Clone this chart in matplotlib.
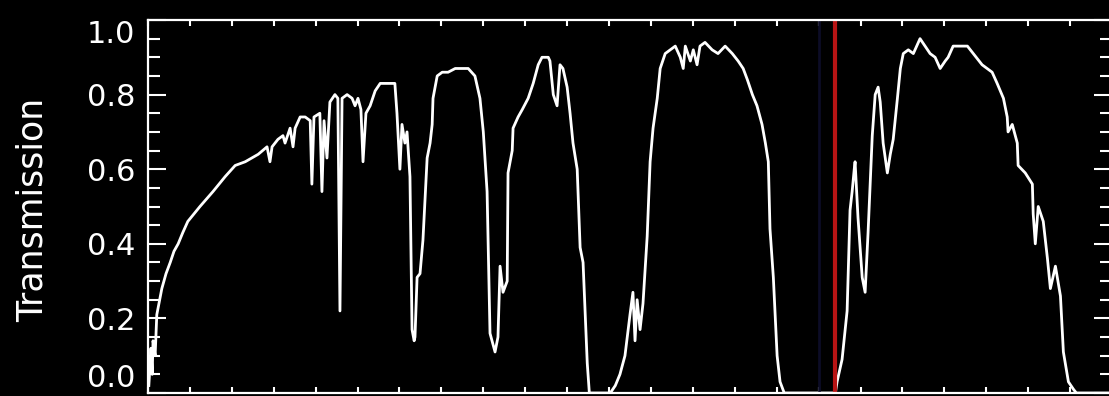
import matplotlib
matplotlib.use("Agg")
import matplotlib.pyplot as plt
from matplotlib.ticker import MultipleLocator, FixedLocator

# atmospheric transmission, wavelength in microns
wavelength = [0.302, 0.307, 0.310, 0.312, 0.317, 0.321, 0.333, 0.343, 0.353, 0.362,
              0.372, 0.383, 0.395,
              0.424, 0.455, 0.484, 0.508, 0.532, 0.563, 0.584, 0.591, 0.596, 0.610,
              0.622, 0.627, 0.639, 0.646, 0.651, 0.663, 0.675, 0.687, 0.691, 0.696,
              0.710, 0.715, 0.720, 0.727, 0.734, 0.746, 0.753, 0.758, 0.763, 0.775,
              0.787, 0.794, 0.801, 0.808, 0.813, 0.820, 0.830, 0.842, 0.854, 0.889,
              0.894, 0.901, 0.906, 0.913, 0.918, 0.925, 0.930, 0.935, 0.937, 0.942,
              0.949, 0.956, 0.966, 0.973, 0.978, 0.980, 0.990, 1.002, 1.016, 1.033,
              1.064, 1.080, 1.092, 1.100, 1.109, 1.116, 1.128, 1.135, 1.140, 1.147,
              1.157, 1.159, 1.169, 1.171, 1.183, 1.193, 1.207, 1.219, 1.231, 1.240,
              1.255, 1.259, 1.267, 1.276, 1.283, 1.290, 1.300, 1.307, 1.314, 1.324,
              1.331, 1.338, 1.348, 1.353, 1.403, 1.415, 1.426, 1.438, 1.450, 1.457,
              1.462, 1.467, 1.474, 1.481, 1.491, 1.498, 1.505, 1.515, 1.522, 1.534,
              1.546, 1.558, 1.570, 1.577, 1.582, 1.594, 1.601, 1.610, 1.617, 1.629,
              1.646, 1.660, 1.677, 1.694, 1.708, 1.720, 1.730, 1.742, 1.753, 1.765,
              1.773, 1.780, 1.784, 1.792, 1.801, 1.808, 1.818, 1.940, 1.944, 1.956,
              1.968, 1.975, 1.980, 1.985, 1.987, 1.994, 2.004, 2.011, 2.018, 2.028,
              2.035, 2.042, 2.047, 2.054, 2.064, 2.071, 2.078, 2.088, 2.095, 2.102,
              2.114, 2.126, 2.142, 2.154, 2.166, 2.178, 2.190, 2.202, 2.209, 2.221,
              2.238, 2.255, 2.269, 2.290, 2.314, 2.326, 2.341, 2.350, 2.352, 2.362,
              2.374, 2.376, 2.393, 2.410, 2.412, 2.417, 2.424, 2.436, 2.446, 2.453,
              2.465, 2.477, 2.484, 2.496, 2.508, 2.515, 2.596]
transmission = [0.02, 0.12, 0.05, 0.14, 0.10, 0.21, 0.28, 0.32, 0.35, 0.38,
                0.40, 0.43, 0.46,
                0.50, 0.54, 0.58, 0.61, 0.62, 0.64, 0.66, 0.62, 0.66, 0.68,
                0.69, 0.67, 0.71, 0.66, 0.71, 0.74, 0.74, 0.73, 0.56, 0.74,
                0.75, 0.54, 0.73, 0.63, 0.78, 0.80, 0.79, 0.22, 0.79, 0.80,
                0.79, 0.77, 0.79, 0.76, 0.62, 0.75, 0.77, 0.81, 0.83, 0.83,
                0.75, 0.60, 0.72, 0.67, 0.70, 0.58, 0.17, 0.14, 0.15, 0.31,
                0.32, 0.41, 0.63, 0.67, 0.72, 0.79, 0.85, 0.86, 0.86, 0.87,
                0.87, 0.85, 0.79, 0.70, 0.54, 0.16, 0.11, 0.15, 0.34, 0.27,
                0.30, 0.59, 0.65, 0.71, 0.74, 0.76, 0.79, 0.83, 0.88, 0.90,
                0.90, 0.89, 0.80, 0.77, 0.88, 0.87, 0.82, 0.75, 0.67, 0.60,
                0.39, 0.35, 0.08, 0.00, 0.00, 0.02, 0.05, 0.10, 0.21, 0.27,
                0.14, 0.25, 0.17, 0.24, 0.42, 0.62, 0.71, 0.79, 0.87, 0.91,
                0.92, 0.93, 0.90, 0.87, 0.93, 0.89, 0.92, 0.88, 0.93, 0.94,
                0.92, 0.91, 0.93, 0.91, 0.89, 0.87, 0.84, 0.80, 0.77, 0.72,
                0.67, 0.62, 0.44, 0.31, 0.10, 0.03, 0.00, 0.00, 0.03, 0.09,
                0.22, 0.49, 0.54, 0.60, 0.62, 0.47, 0.31, 0.27, 0.43, 0.69,
                0.80, 0.82, 0.78, 0.67, 0.59, 0.64, 0.68, 0.79, 0.87, 0.91,
                0.92, 0.91, 0.95, 0.93, 0.91, 0.90, 0.87, 0.89, 0.90, 0.93,
                0.93, 0.93, 0.91, 0.88, 0.86, 0.83, 0.79, 0.74, 0.70, 0.72,
                0.67, 0.61, 0.59, 0.56, 0.48, 0.40, 0.50, 0.46, 0.36, 0.28,
                0.34, 0.26, 0.11, 0.03, 0.01, 0.00, 0.00]

red_line = 1.94
blue_line = 1.90
ytick_vals = [0.0, 0.2, 0.4, 0.6, 0.8, 1.0]

fig = plt.figure(figsize=(11.09, 3.96), dpi=100, facecolor='black')
ax = fig.add_axes([148/1109, 3/396, 964/1109, 373/396], facecolor='black')

ax.plot(wavelength, transmission, color='white', lw=2.0)
ax.axvline(blue_line, color='#0c0c26', lw=2)
ax.axvline(red_line, color='#b81414', lw=3)

ax.set_xlim(0.3, 2.6)
ax.set_ylim(0, 1.0)

for s in ax.spines.values():
    s.set_color('white')
    s.set_linewidth(1.6)

ax.xaxis.set_major_locator(MultipleLocator(0.1))
ax.yaxis.set_major_locator(FixedLocator(ytick_vals))
ax.yaxis.set_minor_locator(MultipleLocator(0.05))
ax.set_yticklabels([f"{v:.1f}" for v in ytick_vals])
ax.tick_params(axis='x', which='both', direction='in', top=True, bottom=True,
               length=4.5, width=1.5, color='white', labelbottom=False)
ax.tick_params(axis='y', which='major', direction='in', left=True, right=True,
               length=13, width=1.5, color='white', labelcolor='white',
               labelsize=22, pad=9)
ax.tick_params(axis='y', which='minor', direction='in', left=True, right=True,
               length=8.5, width=1.5, color='white')
ax.get_yticklabels()[-1].set_va('top')
ax.get_yticklabels()[0].set_va('bottom')

fig.text(33/1109, 1 - 210/396, 'Transmission', rotation=90, color='white',
         fontsize=25, ha='center', va='center')

fig.savefig('out.png', dpi=100, facecolor='black')
